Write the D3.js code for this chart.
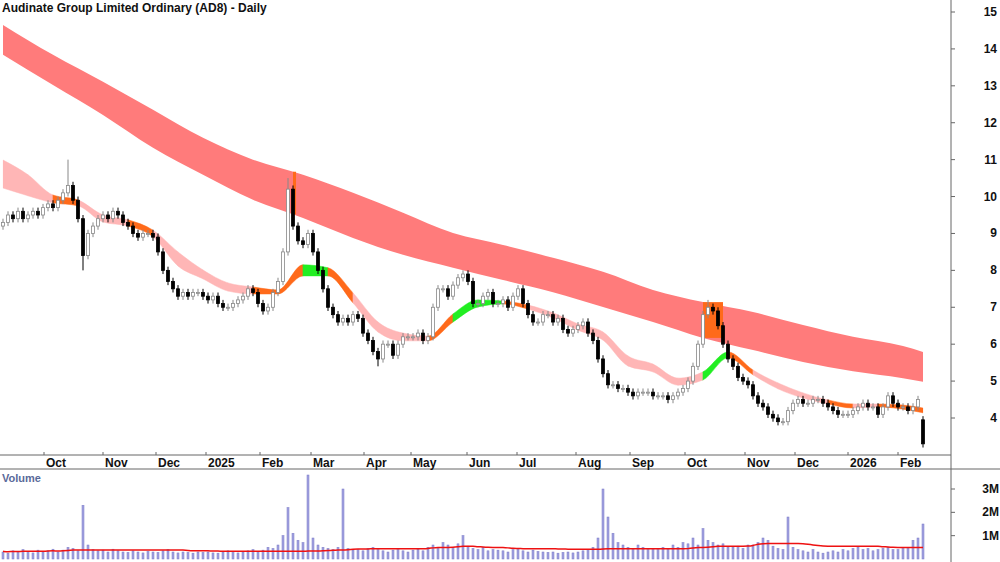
<!DOCTYPE html>
<html>
<head>
<meta charset="utf-8">
<script src="https://cdn.jsdelivr.net/npm/d3@7"></script>
<style>
  body { margin: 0; background: #fff; }
  text { font-family: "Liberation Sans", Arial, sans-serif; }
</style>
</head>
<body>
<div id="chart-area"></div>
<script>
// chart data
const closes = [
  9.3,9.5,9.4,9.6,9.4,9.5,9.6,9.5,9.7,9.8,
  9.7,9.9,10.1,10.3,9.9,9.4,8.4,9.0,9.2,9.4,
  9.5,9.4,9.6,9.5,9.3,9.2,9.0,8.9,9.0,9.0,
  8.9,8.5,8.0,7.7,7.5,7.3,7.4,7.3,7.4,7.4,
  7.3,7.2,7.3,7.1,7.0,7.0,7.1,7.2,7.3,7.5,
  7.4,7.1,6.9,7.0,7.4,7.7,8.5,10.2,9.2,8.8,
  8.7,9.0,8.5,8.0,7.5,7.0,6.8,6.6,6.7,6.6,
  6.8,6.7,6.3,6.1,5.8,5.6,6.0,6.0,5.7,6.0,
  6.2,6.2,6.2,6.3,6.1,6.2,7.0,7.5,7.5,7.3,
  7.6,7.8,7.9,7.7,7.1,7.1,7.3,7.4,7.1,7.1,
  7.2,7.0,7.3,7.5,7.1,6.8,6.6,6.6,6.8,6.8,
  6.6,6.7,6.4,6.3,6.4,6.5,6.6,6.3,6.1,5.6,
  5.2,4.9,4.9,4.8,4.8,4.7,4.6,4.7,4.7,4.7,
  4.6,4.6,4.6,4.5,4.6,4.7,4.8,5.0,5.4,6.0,
  6.8,7.0,6.9,6.5,6.0,5.6,5.4,5.1,5.0,4.9,
  4.6,4.4,4.3,4.1,4.0,3.9,3.9,4.2,4.4,4.5,
  4.4,4.4,4.5,4.5,4.4,4.3,4.2,4.1,4.1,4.1,
  4.2,4.3,4.4,4.3,4.3,4.1,4.3,4.6,4.4,4.3,
  4.3,4.2,4.3,4.5,3.3
];
const firstOpen = 9.2;
const lastOpen = 3.95;
const highSpikes = [[13, 11.0], [57, 10.5], [141, 7.2], [92, 8.0]];
const lowSpikes = [[16, 8.0], [75, 5.4]];

const volumes = [
  300,250,350,280,400,320,260,380,300,350,
  420,300,380,500,450,350,2300,600,400,350,
  380,300,420,350,300,280,350,300,260,320,
  300,280,350,400,300,260,300,280,250,300,
  280,300,260,250,300,350,280,260,300,350,
  400,320,380,500,450,600,1000,2200,1100,800,
  700,3600,900,600,500,450,400,500,3000,450,
  380,400,350,450,500,400,350,300,380,400,
  350,300,380,420,350,500,600,450,700,600,
  500,650,1000,550,450,400,500,350,400,380,
  350,300,400,450,350,300,380,320,300,280,
  300,250,280,300,260,300,350,400,500,900,
  3000,1800,1100,700,600,500,450,600,500,400,
  450,400,500,450,600,500,700,650,900,600,
  1300,800,700,600,650,500,500,550,450,600,
  600,700,900,800,550,450,400,1800,500,400,
  350,300,400,300,250,300,350,300,400,350,
  450,500,400,450,350,400,450,500,400,400,
  450,500,800,900,1500
];

// slow band, sampled every 10 bars (last sample at the final bar)
const slowIdx = [0,10,20,30,40,50,60,70,80,90,100,110,120,130,140,150,160,170,180,184];
const slowTop = [14.65,13.84,13.11,12.35,11.59,11.0,10.59,10.10,9.56,9.01,8.69,8.34,7.96,7.47,7.14,6.87,6.52,6.20,5.95,5.79];
const slowBot = [13.84,13.02,12.21,11.32,10.59,9.91,9.42,8.88,8.42,8.07,7.74,7.41,7.01,6.60,6.17,5.84,5.52,5.27,5.08,4.98];
const slowOrange = [[140, 144], [58, 58.6]];

// fast band, sampled every 5 bars
const fastIdx = d3.range(0, 185, 5).concat([184]);
const fastTop = [10.99,10.59,10.04,9.91,9.50,9.37,9.09,8.50,8.01,7.66,7.55,7.47,8.15,8.07,7.39,6.60,6.30,6.22,6.82,7.20,7.17,7.06,6.85,6.55,6.33,5.68,5.46,5.08,5.25,5.79,5.30,4.95,4.68,4.49,4.38,4.38,4.35,4.27];
const fastBot = [10.23,10.02,9.83,9.75,9.31,9.20,8.91,8.12,7.77,7.44,7.36,7.36,7.85,7.85,7.12,6.33,6.09,6.09,6.60,7.01,7.09,6.95,6.71,6.38,6.11,5.41,5.25,4.89,5.03,5.63,5.17,4.79,4.54,4.38,4.27,4.30,4.24,4.14];
const fastColor = "ppoppoppppoogopppoggopppppppgopppopoop".split("");

const monthLabels = ["Oct","Nov","Dec","2025","Feb","Mar","Apr","May","Jun","Jul","Aug","Sep","Oct","Nov","Dec","2026","Feb"];
const monthIdx = [8.2,20,30.6,40.6,51.4,61.6,72.2,81.6,92.8,102.8,114.6,125.4,136.4,148.4,158.4,169,179];
const priceTicks = [4,5,6,7,8,9,10,11,12,13,14,15];
const volTicks = [1000,2000,3000];

// layout
const W = 1000, H = 562;
const axisX = 951, priceBottom = 455, sep = 469;

const svg = d3.select("#chart-area").append("svg")
  .attr("width", W).attr("height", H);

const x = d3.scaleLinear().domain([0, closes.length - 1]).range([3, 923]);
const y = d3.scaleLinear().domain([4, 15]).range([418, 12]);
const yv = d3.scaleLinear().domain([0, 3000]).range([559, 489]);

const colors = { p: "#ffb6b6", o: "#ff6a1a", g: "#22ee22" };

// slow band
svg.append("path")
  .datum(slowIdx.map((d, i) => [d, slowTop[i], slowBot[i]]))
  .attr("fill", "#ff7b7b")
  .attr("d", d3.area().x(d => x(d[0])).y0(d => y(d[2])).y1(d => y(d[1])).curve(d3.curveMonotoneX));

const interp = (arr, idx, i) => {
  const k = d3.bisectRight(idx, i) - 1;
  const k2 = Math.min(k + 1, idx.length - 1);
  if (k2 === k) return arr[k];
  const t = (i - idx[k]) / (idx[k2] - idx[k]);
  return arr[k] + t * (arr[k2] - arr[k]);
};
slowOrange.forEach(r => {
  svg.append("rect")
    .attr("x", x(r[0])).attr("width", Math.max(2, x(r[1]) - x(r[0])))
    .attr("y", y(interp(slowTop, slowIdx, r[0])))
    .attr("height", y(interp(slowBot, slowIdx, r[0])) - y(interp(slowTop, slowIdx, r[0])))
    .attr("fill", "#ff6a1a");
});

// fast band: one smooth shape, coloured piece by piece through clip paths
const fastPts = fastIdx.map((d, i) => [d, fastTop[i], fastBot[i]]);
const fastD = d3.area().x(d => x(d[0])).y0(d => y(d[2])).y1(d => y(d[1])).curve(d3.curveMonotoneX)(fastPts);
const defs = svg.append("defs");
for (let k = 0; k < fastPts.length - 1; k++) {
  defs.append("clipPath").attr("id", "seg" + k).append("rect")
    .attr("x", x(fastIdx[k]) - 0.3).attr("width", x(fastIdx[k + 1]) - x(fastIdx[k]) + 0.6)
    .attr("y", 0).attr("height", priceBottom);
  svg.append("path").attr("d", fastD)
    .attr("clip-path", `url(#seg${k})`)
    .attr("fill", colors[fastColor[k]])
    .attr("stroke", colors[fastColor[k]]).attr("stroke-width", 0.5);
}

// candles
const candles = closes.map((c, i) => {
  const o = i === 0 ? firstOpen : (i === closes.length - 1 ? lastOpen : closes[i - 1]);
  let hi = Math.max(o, c) + 0.1, lo = Math.min(o, c) - 0.1;
  highSpikes.forEach(s => { if (s[0] === i) hi = s[1]; });
  lowSpikes.forEach(s => { if (s[0] === i) lo = s[1]; });
  return { i, o, c, hi, lo };
});
const cg = svg.append("g");
cg.selectAll("line").data(candles).join("line")
  .attr("x1", d => x(d.i)).attr("x2", d => x(d.i))
  .attr("y1", d => y(d.hi)).attr("y2", d => y(d.lo))
  .attr("stroke", d => d.c >= d.o ? "#888" : "#000");
cg.selectAll("rect").data(candles).join("rect")
  .attr("x", d => x(d.i) - 1.5).attr("width", 3)
  .attr("y", d => y(Math.max(d.o, d.c)))
  .attr("height", d => Math.max(1, Math.abs(y(d.o) - y(d.c))))
  .attr("fill", d => d.c >= d.o ? "#fff" : "#000")
  .attr("stroke", d => d.c >= d.o ? "#888" : "#000")
  .attr("stroke-width", 0.8);

// volume bars
svg.append("g").selectAll("rect").data(volumes).join("rect")
  .attr("x", (d, i) => x(i) - 1).attr("width", 2)
  .attr("y", d => yv(d)).attr("height", d => yv(0) - yv(d))
  .attr("fill", "#a3a3e0").attr("stroke", "#7a7ac8").attr("stroke-width", 0.5);

// volume moving average
const vma = volumes.map((v, i) => d3.median(volumes.slice(Math.max(0, i - 39), i + 1)) * 1.1);
svg.append("path").datum(vma)
  .attr("fill", "none").attr("stroke", "#ee1111").attr("stroke-width", 1.5)
  .attr("d", d3.line().x((d, i) => x(i)).y(d => yv(d)).curve(d3.curveBasis));

// frame lines
svg.append("line").attr("x1", 0).attr("x2", axisX).attr("y1", priceBottom).attr("y2", priceBottom).attr("stroke", "#666");
svg.append("line").attr("x1", 0).attr("x2", W).attr("y1", sep).attr("y2", sep).attr("stroke", "#666");
svg.append("line").attr("x1", axisX).attr("x2", axisX).attr("y1", 0).attr("y2", H).attr("stroke", "#666");

// month ticks
const mg = svg.append("g");
monthIdx.forEach((m, i) => {
  mg.append("line").attr("x1", x(m)).attr("x2", x(m)).attr("y1", priceBottom - 3).attr("y2", priceBottom).attr("stroke", "#666");
  mg.append("text").attr("x", x(m) + 2).attr("y", priceBottom + 12)
    .attr("font-size", 12).attr("font-weight", "bold").attr("fill", "#111").text(monthLabels[i]);
});

// price axis
priceTicks.forEach(p => {
  svg.append("line").attr("x1", axisX).attr("x2", axisX + 4).attr("y1", y(p)).attr("y2", y(p)).attr("stroke", "#666");
  svg.append("text").attr("x", 997).attr("y", y(p) + 4).attr("text-anchor", "end")
    .attr("font-size", 12).attr("font-weight", "bold").attr("fill", "#111").text(p);
});
// volume axis
volTicks.forEach(v => {
  svg.append("line").attr("x1", axisX).attr("x2", axisX + 4).attr("y1", yv(v)).attr("y2", yv(v)).attr("stroke", "#666");
  svg.append("text").attr("x", 999).attr("y", yv(v) + 4).attr("text-anchor", "end")
    .attr("font-size", 12).attr("font-weight", "bold").attr("fill", "#111").text(v / 1000 + "M");
});

// titles
svg.append("text").attr("x", 2).attr("y", 12).attr("font-size", 12).attr("font-weight", "bold")
  .attr("fill", "#111").text("Audinate Group Limited Ordinary (AD8) - Daily");
svg.append("text").attr("x", 2).attr("y", 482).attr("font-size", 11).attr("font-weight", "bold")
  .attr("fill", "#5a6a9a").text("Volume");
</script>
</body>
</html>
